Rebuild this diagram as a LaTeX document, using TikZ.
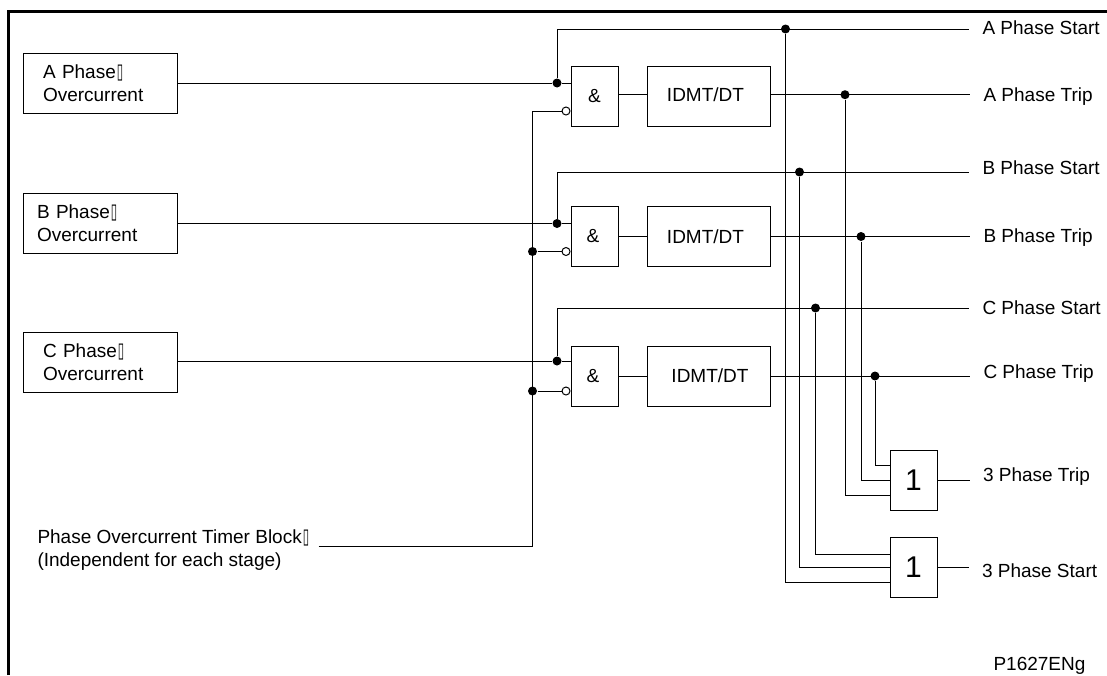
\documentclass[tikz,border=0pt]{standalone}
\usepackage{fontspec}
\usepackage{graphicx}
\setmainfont{Liberation Sans}
\newfontfamily\boxfont{DejaVu Sans}
\usetikzlibrary{shapes,arrows,positioning}
\newcommand{\nulglyph}{\kern1pt\scalebox{0.55}[1]{\boxfont\fontsize{21}{21}\selectfont ▯}}
\tikzstyle{phasebox} = [draw, minimum height=60pt, inner xsep=#1, text width=154pt-2*#1, align=left]
\tikzstyle{gate} = [draw, minimum width=47pt, minimum height=60pt, inner sep=0pt]
\tikzstyle{orgate} = [gate, font=\fontsize{30}{30}\selectfont]
\tikzstyle{timer} = [draw, minimum width=123pt, minimum height=60pt, inner sep=0pt]
\tikzstyle{dot} = [circle, fill=black, inner sep=0pt, minimum size=9pt]
\tikzstyle{inv} = [circle, draw, fill=white, inner sep=0pt, minimum size=8pt, anchor=east]
\tikzstyle{sigtext} = [anchor=west, inner xsep=13pt, inner ysep=0pt, text height=13pt, text depth=4pt]
\begin{document}
\begin{tikzpicture}[x=1pt, y=1pt, line width=1pt, node distance=140pt,
    every node/.style={font=\fontsize{19}{23}\selectfont}]
    \useasboundingbox (0,0) rectangle (1107,-675);
    % Frame
    \draw [line width=2.7pt] (8.5,-675) -- (8.5,-11.5) -- (1107,-11.5);

    % Inputs
    \node [phasebox=20pt] at (100,-83) (phase_a) {A Phase\nulglyph\\Overcurrent};
    \node [phasebox=14pt, below of=phase_a, node distance=140.5pt] (phase_b) {B Phase\nulglyph\\Overcurrent};
    \node [phasebox=20pt, below of=phase_b, node distance=138.5pt] (phase_c) {C Phase\nulglyph\\Overcurrent};
    \node [align=left, anchor=west, inner xsep=13pt, inner ysep=0pt] at (24,-550) (block_txt) {Phase Overcurrent Timer Block\nulglyph\\(Independent for each stage)};

    % Stages
    \node [gate, right of=phase_a, node distance=494.5pt, yshift=-13pt] (and_a) {\&};
    \node [gate, below of=and_a, node distance=140.5pt] (and_b) {\&\hspace*{3pt}};
    \node [gate, below of=and_b, node distance=139.5pt] (and_c) {\&\hspace*{3pt}};
    \node [timer, right of=and_a, node distance=114pt, text depth=3pt] (timer_a) {IDMT/DT\hspace*{6pt}};
    \node [timer, right of=and_b, node distance=114pt] (timer_b) {IDMT/DT\hspace*{6pt}};
    \node [timer, right of=and_c, node distance=114pt] (timer_c) {\hspace*{3pt}IDMT/DT};
    \node [orgate] at (913.5,-480) (or_trip) {1};
    \node [orgate, below of=or_trip, node distance=87.5pt] (or_start) {1};

    % Inverted inputs
    \node [inv] at ([yshift=-15pt]and_a.west) (inv_a) {};
    \node [inv] at ([yshift=-15pt]and_b.west) (inv_b) {};
    \node [inv] at ([yshift=-15pt]and_c.west) (inv_c) {};

    % Outputs
    \node [sigtext] at (969,-30) (start_a) {A Phase Start};
    \node [sigtext] at (970,-97) (trip_a) {A Phase Trip};
    \node [sigtext] at (969,-170) (start_b) {B Phase Start};
    \node [sigtext] at (970,-238) (trip_b) {B Phase Trip};
    \node [sigtext] at (969,-310) (start_c) {C Phase Start};
    \node [sigtext] at (970,-374) (trip_c) {C Phase Trip};
    \node [sigtext, right=32pt of or_trip, yshift=3pt] (trip_3) {3 Phase Trip};
    \node [sigtext, right=31pt of or_start, yshift=-5.5pt] (start_3) {3 Phase Start};
    \node [sigtext] at (980,-666) (code) {P1627ENg};

    % Junctions
    \node [dot] at (557,-83) (in_a) {};
    \node [dot] at (557,-223.5) (in_b) {};
    \node [dot] at (557,-361) (in_c) {};
    \coordinate (top_a) at (557,-29);
    \coordinate (top_b) at (557,-172);
    \coordinate (top_c) at (557,-308);
    \node [dot] at (785.5,-29) (tap_a) {};
    \node [dot] at (799.5,-172) (tap_b) {};
    \node [dot] at (815.5,-308) (tap_c) {};
    \node [dot] at (845,-94.7) (out_a) {};
    \node [dot] at (861,-236.5) (out_b) {};
    \node [dot] at (875,-376) (out_c) {};
    \coordinate (bus_a) at (532.5,-111);
    \node [dot] at (532.5,-251.5) (bus_b) {};
    \node [dot] at (532.5,-391) (bus_c) {};

    % Connections
    \draw (phase_a.east |- in_a) -- (in_a) -- (in_a -| and_a.west);
    \draw (phase_b.east |- in_b) -- (in_b) -- (in_b -| and_b.west);
    \draw (phase_c.east |- in_c) -- (in_c) -- (in_c -| and_c.west);
    \draw (in_a) -- (top_a) -- (top_a -| start_a.west);
    \draw (in_b) -- (top_b) -- (top_b -| start_b.west);
    \draw (in_c) -- (top_c) -- (top_c -| start_c.west);
    \draw (and_a.east |- out_a) -- (timer_a.west |- out_a);
    \draw (and_b) -- (timer_b);
    \draw (and_c) -- (timer_c);
    \draw (timer_a.east |- out_a) -- (trip_a.west |- out_a);
    \draw (timer_b.east) -- (timer_b.east -| trip_b.west);
    \draw (timer_c.east) -- (timer_c.east -| trip_c.west);
    \draw ([xshift=-4pt,yshift=4pt]block_txt.east) -| (bus_a) -- (inv_a);
    \draw (bus_b) -- (inv_b);
    \draw (bus_c) -- (inv_c);
    \draw (out_c) |- ([yshift=15pt]or_trip.west);
    \draw (out_b) |- (or_trip.west);
    \draw (out_a) |- ([yshift=-15pt]or_trip.west);
    \draw (tap_c) |- ([yshift=13.5pt]or_start.west);
    \draw (tap_b) |- (or_start.west);
    \draw (tap_a) |- ([yshift=-14.5pt]or_start.west);
    \draw (or_trip) -- (or_trip -| trip_3.west);
    \draw (or_start) -- (or_start -| start_3.west);
\end{tikzpicture}
\end{document}
